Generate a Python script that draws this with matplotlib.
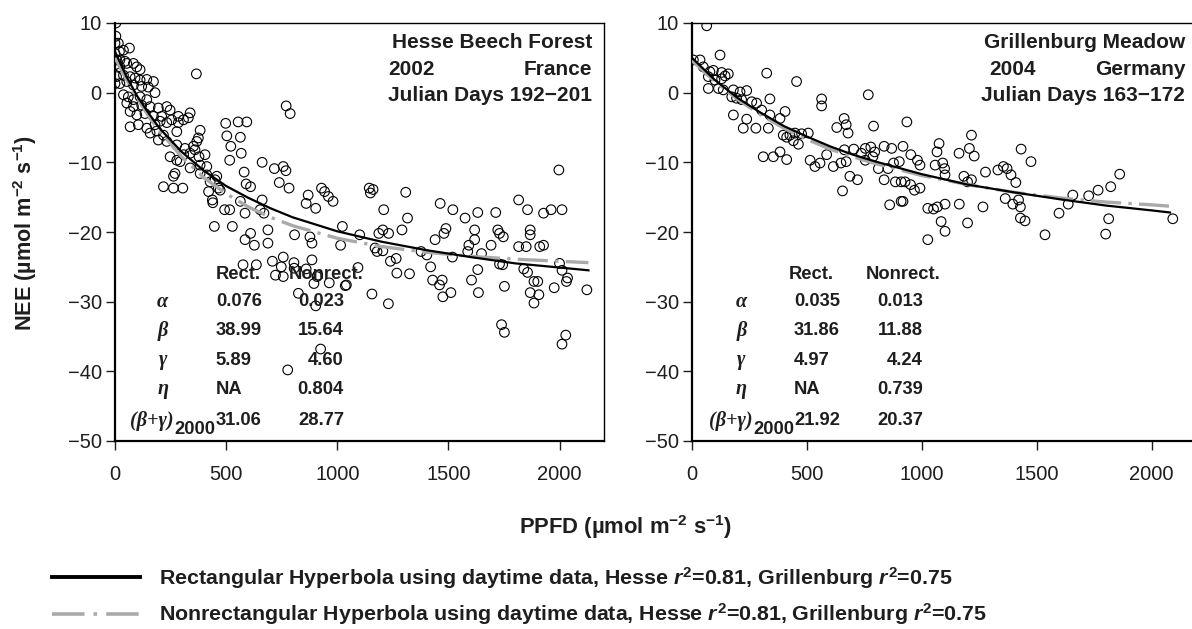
import matplotlib
matplotlib.use('Agg')
import matplotlib.pyplot as plt
from matplotlib.lines import Line2D

plt.rcParams['font.family'] = ['Liberation Sans', 'DejaVu Sans']
plt.rcParams['mathtext.fontset'] = 'custom'
plt.rcParams['mathtext.rm'] = 'Liberation Sans:bold'
plt.rcParams['mathtext.bf'] = 'Liberation Sans:bold'
plt.rcParams['mathtext.it'] = 'Liberation Sans:italic:bold'

# ---- Hesse (left panel) observations: PPFD, NEE ----
hesse_ppfd = [4, 4, 0, 15, 0, 20, 38, 65, 7, 22, 45, 0, 22, 53, 83, 98, 113, 7, 38, 68, 90, 113, 143, 173,
              0, 22, 53, 83, 120, 150, 38, 60, 83, 113, 143, 180, 53, 83, 120, 158, 195, 68, 98, 135, 173,
              210, 233, 248, 68, 105, 143, 180, 203, 233, 158, 188, 218, 255, 285, 285, 308, 338, 330, 278,
              195, 233, 278, 315, 353, 383, 375, 368, 248, 278, 293, 338, 383, 413, 405, 338, 360, 263, 270,
              218, 263, 305, 383, 413, 428, 450, 465, 458, 366, 421, 438, 440, 447, 473, 378, 309,
              770, 788, 498, 554, 593, 503, 564, 521, 568, 516, 662, 717, 757, 769, 739, 783, 581, 590, 610,
              528, 493, 516, 564, 585, 585, 610, 627, 688, 688, 662, 653, 670, 808, 860, 903, 869, 929, 943,
              960, 981, 877, 886, 1023, 1015, 1101, 1144, 1149, 1161, 1209, 1187, 1205, 1231, 1291, 1316,
              1308, 1170, 1440, 1480, 1489, 1463, 1520, 1575, 1632, 1618, 1592, 1618, 1713, 1722, 1747, 1730,
              1692, 1816, 1928, 1962, 2011, 1868, 1868, 1816, 1850, 1911, 1928, 1997, 1856,
              576, 636, 708, 757, 805, 886, 722, 748, 757, 806, 860, 912, 964, 1041, 825, 909, 1093, 895,
              1036, 903, 925, 777, 1179, 1205, 1239, 1265, 1268, 1325, 1156, 1230, 1377, 1403, 1420, 1429,
              1460, 1472, 1475, 1511, 1518, 1604, 1632, 1635, 1587, 1649, 1730, 1744, 1752, 1739, 1752, 1839,
              1856, 1885, 1902, 1868, 1885, 1907, 1976, 2000, 2011, 2036, 2031, 2123, 2011, 2028]
hesse_nee = [10.0, 8.1, 7.1, 7.1, 5.6, 5.9, 6.1, 6.4, 4.7, 4.7, 4.5, 4.0, 3.7, 4.2, 4.2, 3.7, 3.3, 2.3, 2.5,
             2.3, 2.1, 1.8, 1.9, 1.6, 1.3, 1.3, 1.6, 1.1, 0.9, 0.8, -0.3, -0.6, -1.0, -0.6, -1.0, 0.0, -1.5,
             -2.0, -1.8, -2.0, -2.2, -2.7, -3.2, -3.0, -3.4, -3.4, -2.0, -2.5, -4.9, -4.6, -5.1, -4.6, -4.1,
             -4.3, -5.8, -5.5, -6.1, -3.9, -3.4, -4.3, -3.9, -2.9, -3.6, -5.6, -6.8, -7.0, -7.5, -8.0, -7.7,
             -5.4, -6.5, -7.0, -9.2, -9.7, -9.9, -10.8, -10.4, -10.6, -8.9, -8.7, -8.2, -12.0, -11.6, -13.5,
             -13.7, -13.7, -11.6, -11.8, -12.8, -12.5, -13.7, -12.0, 2.7, -14.2, -15.4, -15.8, -19.2, -14.0,
             -9.2, -8.9,
             -1.9, -3.0, -4.4, -4.2, -4.2, -6.2, -6.4, -7.7, -8.7, -9.7, -10.0, -10.9, -10.6, -11.2, -12.9,
             -13.7, -11.4, -13.1, -13.5, -19.2, -16.8, -16.8, -15.6, -17.3, -21.1, -20.2, -21.9, -21.6,
             -19.7, -15.4, -16.8, -17.3, -20.4, -15.9, -16.6, -14.7, -13.7, -14.2, -14.9, -15.6, -20.7,
             -21.6, -19.2, -21.9, -20.4, -13.7, -14.4, -13.9, -16.8, -20.2, -19.7, -20.2, -19.7, -18.0,
             -14.3, -22.3, -21.1, -20.2, -19.5, -15.9, -16.8, -18.0, -17.2, -19.7, -21.9, -21.1, -17.2,
             -19.7, -20.7, -20.2, -21.9, -15.4, -17.3, -16.8, -16.8, -19.7, -20.4, -22.1, -22.1, -22.1,
             -21.9, -11.1, -16.8,
             -24.7, -24.7, -24.2, -23.6, -24.4, -24.0, -26.2, -25.0, -26.4, -25.2, -25.3, -26.2, -27.3,
             -27.6, -28.8, -26.4, -25.1, -27.4, -27.7, -30.6, -36.8, -39.8, -22.8, -22.7, -24.2, -23.8,
             -25.9, -26.0, -28.9, -30.3, -22.8, -23.3, -25.0, -26.9, -27.6, -26.9, -29.3, -28.7, -23.6,
             -26.9, -25.4, -28.7, -22.8, -23.1, -24.6, -24.7, -27.8, -33.3, -34.4, -25.3, -25.8, -27.1,
             -27.1, -28.7, -30.2, -29.0, -28.0, -24.5, -25.5, -26.6, -27.1, -28.3, -36.1, -34.8]

# ---- Grillenburg (right panel) observations ----
grill_ppfd = [64, 6, 35, 49, 78, 93, 129, 158, 122, 71, 100, 129, 144, 71, 115, 136, 180, 209, 238, 173,
              194, 216, 260, 281, 180, 238, 223, 278, 332, 303, 339, 383, 405, 325, 339, 310, 354, 383, 412,
              397, 426, 448, 477, 506, 455, 412, 441, 463, 514, 535, 557, 586, 564, 564,
              662, 671, 679, 630, 615, 648, 671, 655, 687, 720, 663, 704, 737, 754, 778, 795, 767, 790, 754,
              787, 811, 836, 853, 877, 902, 836, 869, 918, 952, 981, 992, 935, 885, 910, 927, 951, 968, 992,
              860, 910, 918, 1026, 1026, 1051, 1068, 1084, 1101, 1101, 1066, 1075, 1058, 1091, 1099, 1101,
              1162, 1163, 1183, 1199, 1216, 1199, 1207, 1216, 1228, 1266, 1277, 1331, 1355, 1371, 1388, 1409,
              1363, 1396, 1429, 1421, 1429, 1449, 1432, 1475, 1536, 1597, 1637, 1657, 1726, 1767, 1822, 1813,
              1800, 1861, 2092]
grill_nee = [9.6, 4.7, 4.7, 3.7, 3.0, 3.2, 2.9, 2.7, 5.4, 2.3, 1.8, 2.0, 2.4, 0.6, 0.6, 0.4, 0.4, 0.1, 0.3,
             -0.6, -0.8, -1.0, -1.3, -1.5, -3.2, -3.8, -5.1, -5.1, -5.1, -2.5, -3.2, -3.7, -2.7, 2.8, -0.9,
             -9.2, -9.2, -8.5, -9.6, -6.1, -6.1, -5.8, -5.9, -5.8, 1.6, -6.4, -6.9, -7.4, -9.7, -10.6, -10.1,
             -8.9, -0.9, -1.9,
             -3.7, -4.6, -5.8, -5.0, -10.6, -10.1, -9.9, -14.1, -12.0, -12.5, -8.2, -8.1, -8.7, -8.0, -7.8,
             -8.5, -0.3, -4.8, -9.7, -9.2, -10.9, -12.5, -10.9, -10.1, -9.9, -7.7, -8.0, -7.7, -8.9, -9.7,
             -10.4, -4.2, -12.8, -12.8, -12.8, -13.2, -14.0, -13.7, -16.1, -15.6, -15.6, -21.1, -16.6,
             -16.7, -16.4, -18.5, -19.9, -16.0, -8.5, -7.3, -10.4, -10.1, -10.9, -11.8, -8.7, -16.0, -12.0,
             -12.8, -12.5, -18.7, -8.0, -6.1, -9.1, -16.4, -11.4, -11.1, -10.6, -10.9, -11.8, -12.9, -15.2,
             -16.0, -16.4, -15.4, -18.0, -18.4, -8.1, -9.9, -20.4, -17.3, -16.0, -14.7, -14.8, -14.0, -13.5,
             -18.1, -20.3, -11.7, -18.1]

# ---- fitted curves ----
hesse_fit_ppfd = [0, 50, 100, 150, 200, 300, 400, 500, 600, 700, 800, 1000, 1200, 1400, 1600, 1800, 2000, 2130]
hesse_rect = [5.9, 2.4, -0.5, -2.9, -5.1, -8.5, -11.2, -13.4, -15.1, -16.6, -17.9, -19.9, -21.4, -22.6,
              -23.6, -24.5, -25.1, -25.5]
hesse_nonrect = [5.0, 2.0, -0.8, -3.3, -5.5, -9.2, -12.2, -14.5, -16.4, -17.9, -19.1, -20.9, -22.1, -22.9,
                 -23.5, -23.9, -24.2, -24.4]
grill_fit_ppfd = [0, 100, 200, 300, 400, 500, 600, 700, 800, 1000, 1200, 1400, 1600, 1800, 2000, 2080]
grill_rect = [5.0, 1.8, -0.8, -2.9, -4.8, -6.3, -7.7, -8.9, -9.9, -11.7, -13.2, -14.3, -15.3, -16.2, -16.9, -17.2]
grill_nonrect = [4.6, 1.6, -1.0, -3.2, -5.1, -6.7, -8.1, -9.2, -10.2, -11.9, -13.2, -14.3, -15.1, -15.7,
                 -16.1, -16.3]

# ---- parameter tables ----
param_names = ['\u03b1', '\u03b2', '\u03b3', '\u03b7']
hesse_rect_params = ['0.076', '38.99', '5.89', 'NA', '31.06']
hesse_nonrect_params = ['0.023', '15.64', '4.60', '0.804', '28.77']
grill_rect_params = ['0.035', '31.86', '4.97', 'NA', '21.92']
grill_nonrect_params = ['0.013', '11.88', '4.24', '0.739', '20.37']

site_titles = [('Hesse Beech Forest', '2002', 'France', 'Julian Days 192\u2212201'),
               ('Grillenburg Meadow', '2004', 'Germany', 'Julian Days 163\u2212172')]

GRAY = '#aaaaaa'
DASH = (0, (9, 2.2, 1, 2.2))
INK = '#1e1e1e'

W, H = 1192, 629
fig = plt.figure(figsize=(W / 100, H / 100), dpi=100)
ax1 = fig.add_axes([115 / W, 1 - 441 / H, (604 - 115) / W, (441 - 23) / H])
ax2 = fig.add_axes([692 / W, 1 - 441 / H, (1197.6 - 692) / W, (441 - 23) / H])


def draw_panel(ax, ppfd, nee, fit_x, rect, nonrect, title, rect_p, nonrect_p, cols):
    ax.scatter(ppfd, nee, s=48, facecolors='none', edgecolors='black', linewidths=0.8, zorder=2)
    ax.plot(fit_x, nonrect, color=GRAY, lw=2.4, linestyle=DASH, zorder=3)
    ax.plot(fit_x, rect, color='black', lw=1.6, zorder=4)

    ax.set_xlim(0, 2200)
    ax.set_ylim(-50, 10)
    ax.set_xticks([0, 500, 1000, 1500, 2000])
    ax.set_yticks([-50, -40, -30, -20, -10, 0, 10])
    ax.set_yticklabels(['\u221250', '\u221240', '\u221230', '\u221220', '\u221210', '0', '10'])
    ax.tick_params(direction='out', length=6.5, width=1, labelsize=14.5, colors=INK)
    ax.tick_params(axis='x', pad=11)
    ax.tick_params(axis='y', pad=3)
    for side in ['left', 'bottom']:
        ax.spines[side].set_linewidth(1.6)
    for side in ['top', 'right']:
        ax.spines[side].set_linewidth(1.0)

    # site description
    tkw = dict(fontsize=15, fontweight='bold', color=INK, transform=ax.transAxes, va='center')
    ax.text(0.9755, 0.9545, title[0], ha='right', **tkw)
    ax.text(cols['year'], 0.8876, title[1], ha='left', **tkw)
    ax.text(0.9755, 0.8876, title[2], ha='right', **tkw)
    ax.text(0.9755, 0.8254, title[3], ha='right', **tkw)

    # parameter table
    rows = [-30.0, -34.2, -38.4, -42.6, -47.1]
    nkw = dict(fontsize=13.2, fontweight='bold', color=INK, va='center')
    gkw = dict(fontsize=14.5, fontweight='bold', style='italic', family='Liberation Serif',
               color=INK, va='center')
    ax.text(cols['rect_head'], -26.1, 'Rect.', ha='left', **nkw)
    ax.text(cols['nonrect_head'], -26.1, 'Nonrect.', ha='left', **nkw)
    for name, yy in zip(param_names, rows[:4]):
        ax.text(215, yy, name, ha='center', **gkw)
    ax.text(265, rows[4], '(\u03b2+\u03b3)', ha='right', **gkw)
    ax.text(265, rows[4] - 1.3, '2000', ha='left', **nkw)
    for val, yy in zip(rect_p, rows):
        ax.text(cols['rect'], yy, val, ha='left', **nkw)
    for val, yy in zip(nonrect_p, rows):
        ax.text(cols['nonrect'], yy, val, ha='right', **nkw)


draw_panel(ax1, hesse_ppfd, hesse_nee, hesse_fit_ppfd, hesse_rect, hesse_nonrect, site_titles[0],
           hesse_rect_params, hesse_nonrect_params,
           dict(year=0.558, rect_head=454, nonrect_head=783, rect=454, nonrect=1030))
draw_panel(ax2, grill_ppfd, grill_nee, grill_fit_ppfd, grill_rect, grill_nonrect, site_titles[1],
           grill_rect_params, grill_nonrect_params,
           dict(year=0.588, rect_head=422, nonrect_head=757, rect=444, nonrect=1005))

fig.text(25 / W, 1 - 233 / H, 'NEE (\u00b5mol m$^{-2}$ s$^{-1}$)', rotation=90, ha='center', va='center',
         fontsize=15.6, fontweight='bold', color=INK)
fig.text(625 / W, 1 - 527 / H, 'PPFD (\u00b5mol m$^{-2}$ s$^{-1}$)', ha='center', va='center',
         fontsize=15.8, fontweight='bold', color=INK)

handles = [Line2D([], [], color='black', lw=2.8),
           Line2D([], [], color=GRAY, lw=2.6, linestyle=(0, (9, 2.5, 1, 2.5)))]
labels = ['Rectangular Hyperbola using daytime data, Hesse $r^2$=0.81, Grillenburg $r^2$=0.75',
          'Nonrectangular Hyperbola using daytime data, Hesse $r^2$=0.81, Grillenburg $r^2$=0.75']
leg = fig.legend(handles, labels, loc='upper left', bbox_to_anchor=(52 / W, 1 - 565 / H), frameon=False,
                 borderpad=0, borderaxespad=0, handlelength=4.1, handletextpad=0.9, labelspacing=0.5,
                 prop={'size': 15.4, 'weight': 'bold'})
for t in leg.get_texts():
    t.set_color(INK)

fig.savefig('out.png', dpi=100)
